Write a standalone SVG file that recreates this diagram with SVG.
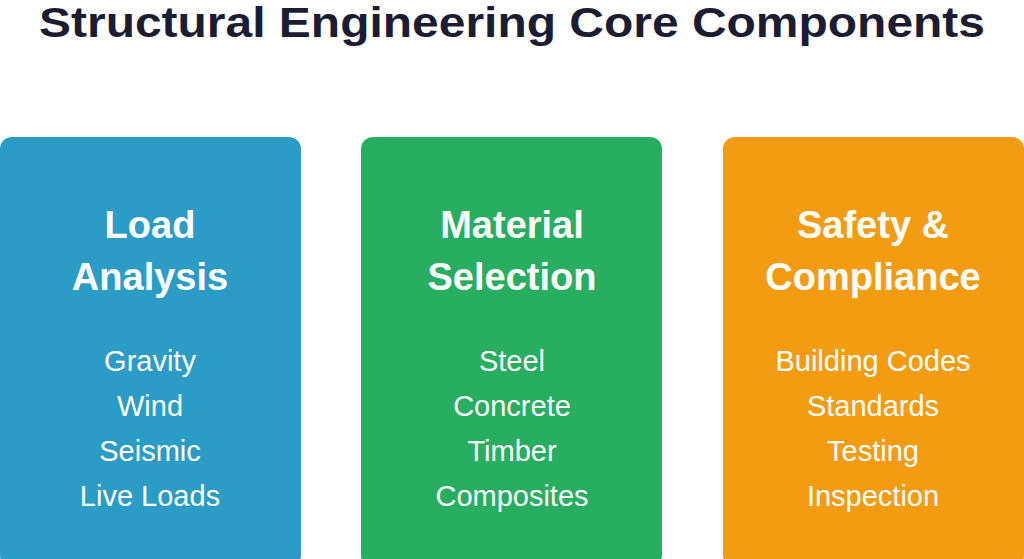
<svg xmlns="http://www.w3.org/2000/svg" width="1024" height="559" viewBox="0 0 1024 559">
<style>
.t{font-family:"Liberation Sans",Arial,sans-serif;font-weight:bold;font-size:43px;fill:#1c1c33;text-anchor:middle}
.h{font-family:"Liberation Sans",Arial,sans-serif;font-weight:bold;font-size:38px;fill:#fff;text-anchor:middle}
.i{font-family:"Liberation Sans",Arial,sans-serif;font-size:29px;fill:#fff;text-anchor:middle}
</style>
<rect width="1024" height="559" fill="#fff"/>
<text class="t" x="512" y="37" textLength="946" lengthAdjust="spacingAndGlyphs">Structural Engineering Core Components</text>
<g id="load">
<rect x="0" y="137" width="301" height="430" rx="12" fill="#2b9cc6"/>
<text class="h" x="150" y="238">Load</text><text class="h" x="150" y="290">Analysis</text>
<text class="i" x="150" y="371">Gravity</text><text class="i" x="150" y="416">Wind</text><text class="i" x="150" y="461">Seismic</text><text class="i" x="150" y="506">Live Loads</text>
</g>
<g id="material">
<rect x="361" y="137" width="301" height="430" rx="12" fill="#27ae60"/>
<text class="h" x="512" y="238">Material</text><text class="h" x="512" y="290">Selection</text>
<text class="i" x="512" y="371">Steel</text><text class="i" x="512" y="416">Concrete</text><text class="i" x="512" y="461">Timber</text><text class="i" x="512" y="506">Composites</text>
</g>
<g id="safety">
<rect x="723" y="137" width="301" height="430" rx="12" fill="#f39c12"/>
<text class="h" x="873" y="238">Safety &amp;</text><text class="h" x="873" y="290">Compliance</text>
<text class="i" x="873" y="371">Building Codes</text><text class="i" x="873" y="416">Standards</text><text class="i" x="873" y="461">Testing</text><text class="i" x="873" y="506">Inspection</text>
</g>
<g id="connectors"/>
</svg>
